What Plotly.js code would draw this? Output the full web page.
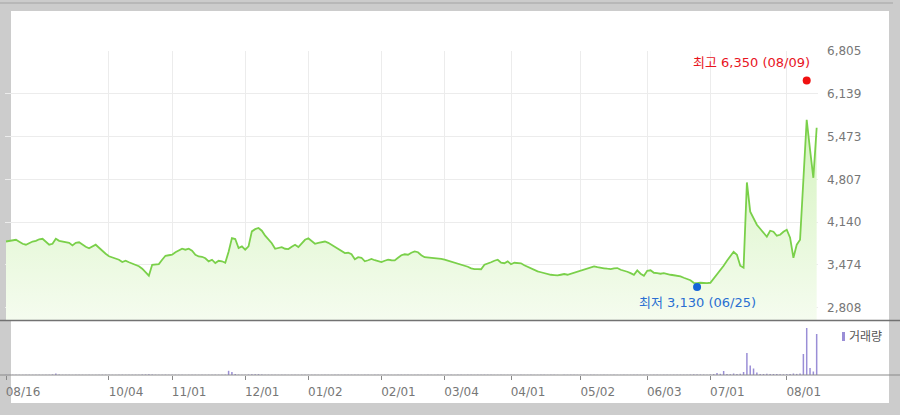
<!DOCTYPE html>
<html><head><meta charset="utf-8">
<script src="https://cdn.plot.ly/plotly-3.0.1.min.js"></script>
<style>html,body{margin:0;padding:0;background:#cccccc;}#chart{width:900px;height:415px;}</style>
</head><body><div id="chart"></div>
<script>
// Daily closing price by trading day (2023-08-16 .. 2024-08-14)
const prices = [
3840,3850,3855,3867,3836,3805,3790,3820,3840,3850,
3875,3883,3836,3790,3805,3883,3850,3836,3830,3820,
3780,3820,3828,3790,3758,3735,3758,3790,3743,3688,
3649,3610,3592,3582,3556,3520,3540,3517,3494,3470,
3455,3416,3353,3307,3478,3489,3489,3556,3618,3626,
3634,3673,3696,3727,3712,3727,3696,3634,3607,3602,
3579,3530,3556,3504,3540,3532,3509,3680,3894,3878,
3738,3764,3712,3764,3997,4032,4050,4008,3930,3867,
3813,3727,3743,3753,3727,3722,3758,3790,3753,3805,
3867,3890,3851,3805,3820,3836,3840,3820,3790,3758,
3727,3696,3660,3665,3641,3564,3595,3587,3532,3548,
3567,3548,3532,3520,3540,3556,3548,3545,3587,3626,
3641,3634,3665,3685,3673,3626,3595,3592,3587,3587,
3579,3571,3556,3540,3530,3517,3501,3486,3467,3447,
3423,3411,3411,3408,3478,3494,3517,3540,3556,3509,
3501,3530,3486,3509,3509,3501,3470,3447,3423,3392,
3374,3361,3345,3333,3322,3317,3311,3322,3333,3322,
3338,3353,3374,3384,3400,3411,3431,3451,3439,3436,
3423,3416,3411,3423,3426,3400,3389,3369,3348,3322,
3389,3338,3307,3384,3392,3353,3348,3338,3348,3330,
3322,3314,3307,3296,3275,3260,3236,3197,3190,3197,
3193,3193,3197,3260,3322,3384,3462,3540,3618,3680,
3634,3462,3431,4760,4304,4210,4101,4039,3977,3914,
4008,3992,3930,3945,3992,4023,3899,3587,3790,3867,
4802,5737,5270,4833,5612
];
// Daily volume (thousand shares)
const volumes = [
25,18,22,15,20,17,30,22,19,16,
14,20,18,25,60,150,40,22,18,20,
16,15,19,22,18,14,17,20,24,30,
28,22,19,16,25,30,22,18,20,26,
35,40,55,70,45,30,25,28,35,30,
22,25,20,18,16,22,19,24,20,18,
20,25,22,30,26,28,35,420,300,90,
40,35,30,45,85,80,85,40,35,30,
25,22,20,18,20,17,22,25,20,28,
30,26,22,20,18,19,16,20,18,17,
15,18,16,20,22,25,18,16,20,15,
14,16,18,15,13,17,15,14,20,25,
22,18,16,20,24,18,15,14,16,15,
13,15,14,16,15,14,18,16,15,20,
22,18,16,15,30,25,20,18,16,22,
18,16,20,15,14,16,18,15,14,16,
13,15,14,12,15,14,13,12,14,15,
14,16,15,18,16,15,17,19,16,15,
14,15,16,14,13,15,14,16,18,20,
25,22,20,18,16,15,14,16,15,18,
20,22,25,28,30,35,40,60,55,45,
40,35,50,90,200,120,400,100,80,150,
90,120,300,2200,950,650,250,110,100,120,
110,100,90,70,60,80,100,150,110,140,
2100,4700,700,350,4100
];
const tickIndex = [0,31,50,72,91,113,132,152,173,193,212,235];
const tickLabels = ['08/16','10/04','11/01','12/01','01/02','02/01','03/04','04/01','05/02','06/03','07/01','08/01'];
const priceTicks = [2808,3474,4140,4807,5473,6139,6805];
const priceTickText = ['2,808','3,474','4,140','4,807','5,473','6,139','6,805'];
const highPoint = {index: 241, value: 6350, label: '최고 6,350 (08/09)'};
const lowPoint = {index: 208, value: 3130, label: '최저 3,130 (06/25)'};
const volumeName = '거래량';

const dayIndex = prices.map((_, i) => i);
const W = 900, H = 415;
const px = v => v / W, py = v => (H - v) / H;
const FONT = 'DejaVu Sans, "Noto Sans CJK KR", sans-serif';

const traces = [
  {x: dayIndex, y: prices, type: 'scatter', mode: 'lines', xaxis: 'x', yaxis: 'y',
   line: {color: '#7ad04a', width: 1.8}, fill: 'tozeroy',
   fillgradient: {type: 'vertical', start: 2617, stop: 5800,
     colorscale: [[0, 'rgb(245,252,239)'], [1, 'rgb(212,243,190)']]},
   hoverinfo: 'skip'},
  {x: [highPoint.index], y: [highPoint.value], type: 'scatter', mode: 'markers', xaxis: 'x', yaxis: 'y',
   marker: {color: '#f01010', size: 8}, hoverinfo: 'skip'},
  {x: [lowPoint.index], y: [lowPoint.value], type: 'scatter', mode: 'markers', xaxis: 'x', yaxis: 'y',
   marker: {color: '#1565d8', size: 8}, hoverinfo: 'skip'},
  {x: dayIndex, y: volumes, type: 'bar', xaxis: 'x2', yaxis: 'y2', width: 0.45,
   marker: {color: '#9a8ed6', line: {width: 0}}, hoverinfo: 'skip'}
];

const layout = {
  width: W, height: H,
  margin: {l: 0, r: 0, t: 0, b: 0},
  paper_bgcolor: '#cccccc', plot_bgcolor: 'rgba(0,0,0,0)',
  showlegend: false,
  font: {family: FONT, size: 12, color: '#777'},
  xaxis: {domain: [px(5), px(818)], range: [-0.3, 244.4], anchor: 'y',
    tickmode: 'array', tickvals: tickIndex, showticklabels: false, ticks: '',
    showgrid: true, gridcolor: '#ececec', gridwidth: 1, zeroline: false, showline: false, automargin: false},
  yaxis: {domain: [py(320), py(51)], range: [2617, 6808], side: 'right', anchor: 'x',
    tickmode: 'array', tickvals: priceTicks, ticktext: priceTickText,
    showgrid: true, gridcolor: '#ececec', gridwidth: 1, zeroline: false, showline: false,
    ticks: '', ticklabelstandoff: 8, tickfont: {family: FONT, size: 12, color: '#777'}, automargin: false},
  xaxis2: {domain: [px(5), px(818)], range: [-0.3, 244.4], anchor: 'y2',
    tickmode: 'array', tickvals: tickIndex, ticktext: tickLabels,
    ticks: 'outside', ticklen: 4, tickcolor: '#888', tickwidth: 1,
    ticklabelshift: 17, ticklabelstandoff: 2, tickfont: {family: FONT, size: 12, color: '#777'},
    showgrid: false, zeroline: false, showline: false, automargin: false},
  yaxis2: {domain: [py(375), py(321)], range: [0, 5400], anchor: 'x2',
    showticklabels: false, showgrid: false, zeroline: false, showline: false, ticks: '', automargin: false},
  shapes: [
    {type: 'rect', xref: 'paper', yref: 'paper', x0: px(11), x1: px(889), y0: py(403), y1: py(11),
     fillcolor: '#ffffff', line: {width: 0}, layer: 'below'},
    {type: 'line', xref: 'paper', yref: 'paper', x0: 0, x1: px(893), y0: py(3), y1: py(3),
     line: {color: '#b8b8b8', width: 2}, layer: 'below'},
    {type: 'line', xref: 'paper', yref: 'paper', x0: 0, x1: 1, y0: py(320.5), y1: py(320.5),
     line: {color: '#727272', width: 1.5}},
    {type: 'line', xref: 'paper', yref: 'paper', x0: 0, x1: 1, y0: py(375), y1: py(375),
     line: {color: '#8a8a8a', width: 1}},
    {type: 'rect', xref: 'paper', yref: 'paper', x0: px(842), x1: px(845), y0: py(341), y1: py(332),
     fillcolor: '#9a8ed6', line: {width: 0}}
  ],
  annotations: [
    {x: highPoint.index, y: highPoint.value, xref: 'x', yref: 'y', text: highPoint.label, showarrow: false,
     xanchor: 'right', yanchor: 'middle', xshift: 5, yshift: 18,
     font: {family: FONT, size: 13, color: '#e8141e'}},
    {x: lowPoint.index, y: lowPoint.value, xref: 'x', yref: 'y', text: lowPoint.label, showarrow: false,
     xanchor: 'center', yanchor: 'middle', xshift: 0, yshift: -15,
     font: {family: FONT, size: 13, color: '#2a6fd2'}},
    {x: px(847), y: py(337), xref: 'paper', yref: 'paper', text: volumeName, showarrow: false,
     xanchor: 'left', yanchor: 'middle', font: {family: FONT, size: 12, color: '#555'}}
  ]
};
Plotly.newPlot('chart', traces, layout, {staticPlot: true, displayModeBar: false});
</script></body></html>
